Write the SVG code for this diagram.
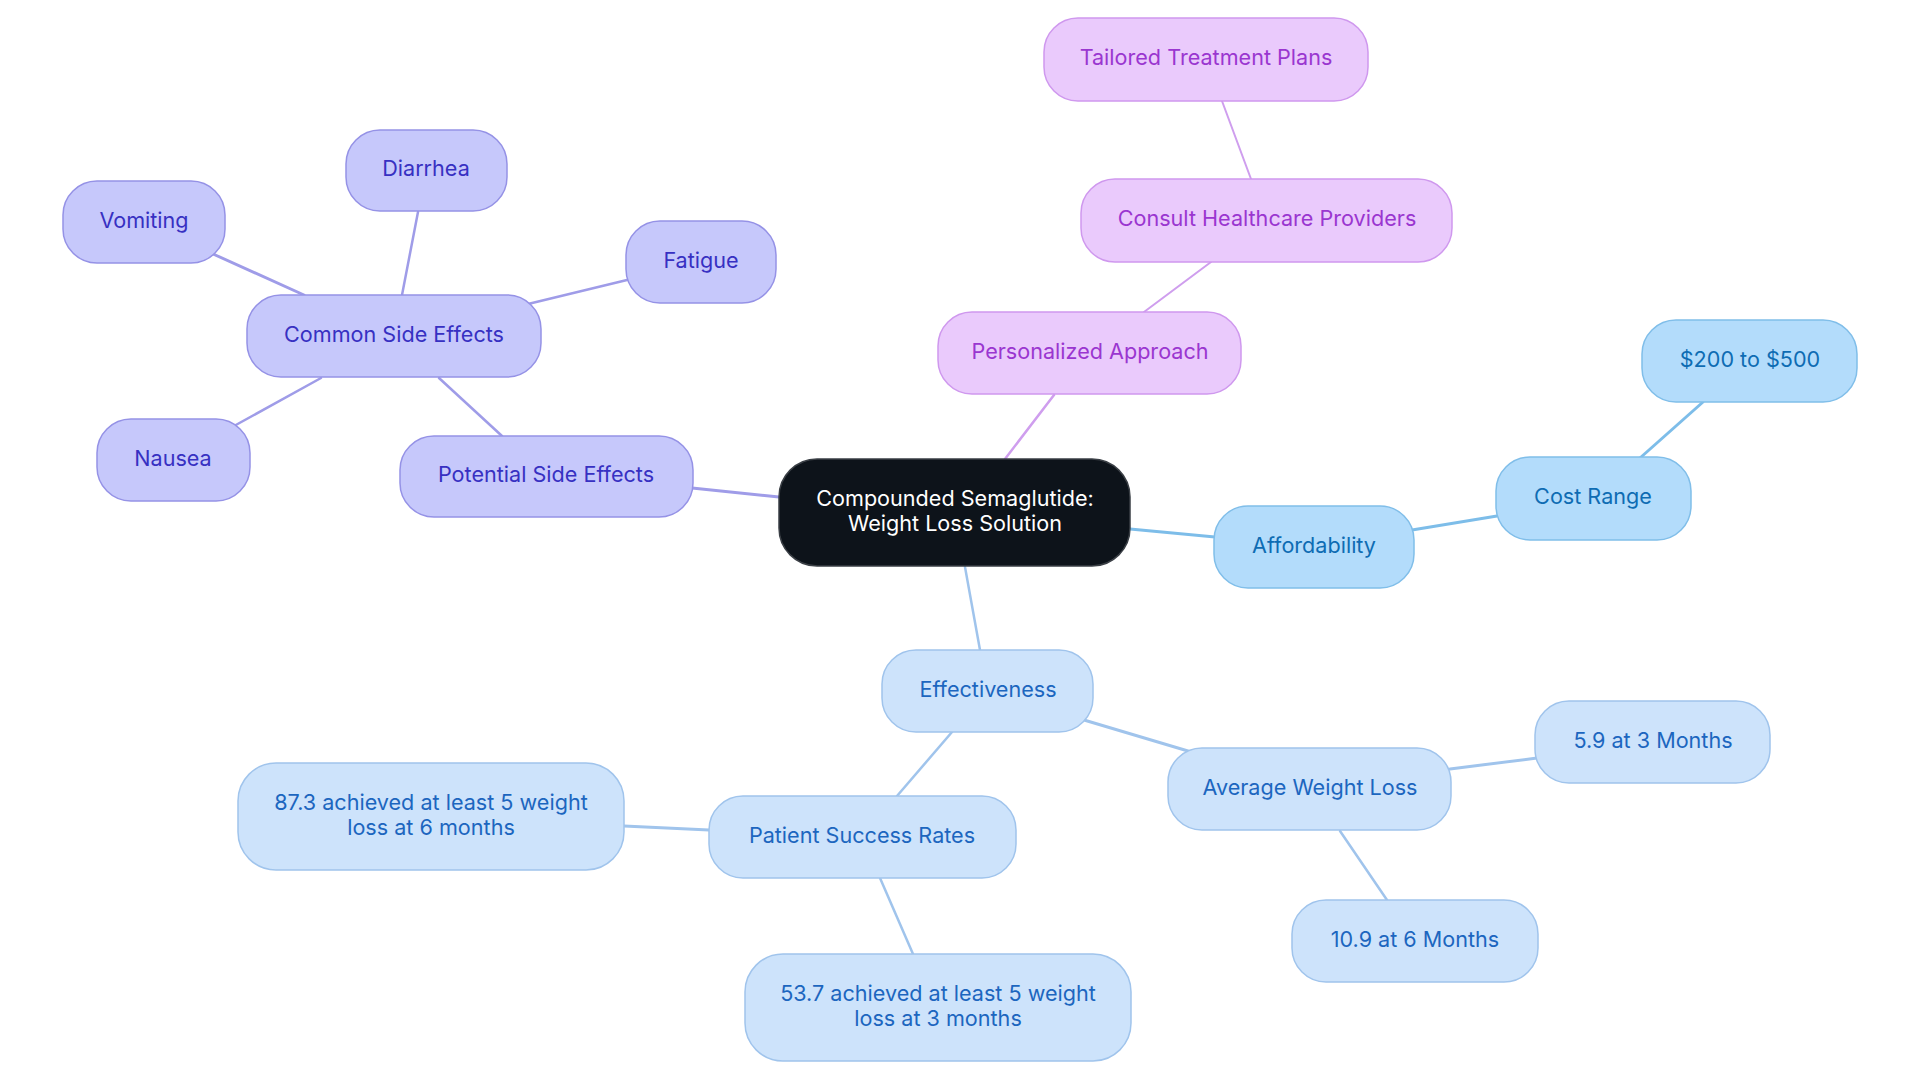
<svg xmlns="http://www.w3.org/2000/svg" width="1920" height="1083" viewBox="0 0 1920 1083">
<style>
text{font-family:Inter,"Noto Sans","Liberation Sans",sans-serif;font-size:21.6px;text-anchor:middle}
.s1 rect{fill:#c6c8fb;stroke:#9592e6;stroke-width:1.5}
.s1 text{fill:#3730c2}
.s2 rect{fill:#eacafc;stroke:#cf98ee;stroke-width:1.5}
.s2 text{fill:#9a36d0}
.s3 rect{fill:#b3dcfb;stroke:#80bee9;stroke-width:1.5}
.s3 text{fill:#0e6cb3}
.s4 rect{fill:#cde3fb;stroke:#a0c4ec;stroke-width:1.5}
.s4 text{fill:#1c66bf}
.root rect{fill:#0d131a;stroke:#3a3f45;stroke-width:1.5}
.root text{fill:#ffffff}
.e1{stroke:#9f9ce8}
.e2{stroke:#cf9eee}
.e3{stroke:#7dbde9}
.e4{stroke:#a0c4ec}
#edges line{stroke-linecap:round;fill:none}
</style>
<rect width="1920" height="1083" fill="#ffffff"/>
<g id="edges">
<line class="e1" x1="213" y1="254" x2="304" y2="295" stroke-width="3"/>
<line class="e1" x1="418" y1="212" x2="402" y2="295" stroke-width="2.5"/>
<line class="e1" x1="627" y1="280" x2="528" y2="304" stroke-width="2.5"/>
<line class="e1" x1="234" y1="426" x2="321" y2="378" stroke-width="2.5"/>
<line class="e1" x1="502" y1="436" x2="439" y2="378" stroke-width="2.5"/>
<line class="e1" x1="692" y1="488" x2="779" y2="497" stroke-width="3"/>
<line class="e2" x1="1222" y1="101" x2="1251" y2="179" stroke-width="2"/>
<line class="e2" x1="1211" y1="262" x2="1144" y2="312" stroke-width="2"/>
<line class="e2" x1="1054" y1="395" x2="1005" y2="459" stroke-width="2.5"/>
<line class="e3" x1="1703" y1="402" x2="1640" y2="458" stroke-width="3"/>
<line class="e3" x1="1497" y1="516" x2="1412" y2="530" stroke-width="3"/>
<line class="e3" x1="1130" y1="529" x2="1215" y2="537" stroke-width="3"/>
<line class="e4" x1="965" y1="567" x2="980" y2="650" stroke-width="2.5"/>
<line class="e4" x1="1084" y1="720" x2="1188" y2="751" stroke-width="3"/>
<line class="e4" x1="1450" y1="769" x2="1537" y2="758" stroke-width="3"/>
<line class="e4" x1="1340" y1="831" x2="1387" y2="900" stroke-width="2.5"/>
<line class="e4" x1="952" y1="732" x2="897" y2="796" stroke-width="2.5"/>
<line class="e4" x1="624" y1="826" x2="709" y2="830" stroke-width="3"/>
<line class="e4" x1="880" y1="878" x2="913" y2="954" stroke-width="2.5"/>
</g>
<g id="root" class="root"><rect x="779" y="459" width="351" height="107" rx="38"/><text x="955" y="506">Compounded Semaglutide:</text><text x="955" y="531">Weight Loss Solution</text></g>
<g id="vomiting" class="s1"><rect x="63" y="181" width="162" height="82" rx="34"/><text x="144" y="228">Vomiting</text></g>
<g id="diarrhea" class="s1"><rect x="346" y="130" width="161" height="81" rx="34"/><text x="426" y="176">Diarrhea</text></g>
<g id="fatigue" class="s1"><rect x="626" y="221" width="150" height="82" rx="34"/><text x="701" y="268">Fatigue</text></g>
<g id="common" class="s1"><rect x="247" y="295" width="294" height="82" rx="34"/><text x="394" y="342">Common Side Effects</text></g>
<g id="nausea" class="s1"><rect x="97" y="419" width="153" height="82" rx="34"/><text x="173" y="466">Nausea</text></g>
<g id="potential" class="s1"><rect x="400" y="436" width="293" height="81" rx="34"/><text x="546" y="482">Potential Side Effects</text></g>
<g id="tailored" class="s2"><rect x="1044" y="18" width="324" height="83" rx="34"/><text x="1206" y="65">Tailored Treatment Plans</text></g>
<g id="consult" class="s2"><rect x="1081" y="179" width="371" height="83" rx="34"/><text x="1267" y="226">Consult Healthcare Providers</text></g>
<g id="personalized" class="s2"><rect x="938" y="312" width="303" height="82" rx="34"/><text x="1090" y="359">Personalized Approach</text></g>
<g id="price" class="s3"><rect x="1642" y="320" width="215" height="82" rx="34"/><text x="1750" y="367">$200 to $500</text></g>
<g id="cost" class="s3"><rect x="1496" y="457" width="195" height="83" rx="34"/><text x="1593" y="504">Cost Range</text></g>
<g id="affordability" class="s3"><rect x="1214" y="506" width="200" height="82" rx="34"/><text x="1314" y="553">Affordability</text></g>
<g id="effectiveness" class="s4"><rect x="882" y="650" width="211" height="82" rx="34"/><text x="988" y="697">Effectiveness</text></g>
<g id="average" class="s4"><rect x="1168" y="748" width="283" height="82" rx="34"/><text x="1310" y="795">Average Weight Loss</text></g>
<g id="m3" class="s4"><rect x="1535" y="701" width="235" height="82" rx="34"/><text x="1653" y="748">5.9 at 3 Months</text></g>
<g id="m6" class="s4"><rect x="1292" y="900" width="246" height="82" rx="34"/><text x="1415" y="947">10.9 at 6 Months</text></g>
<g id="patient" class="s4"><rect x="709" y="796" width="307" height="82" rx="34"/><text x="862" y="843">Patient Success Rates</text></g>
<g id="p873" class="s4"><rect x="238" y="763" width="386" height="107" rx="38"/><text x="431" y="810">87.3 achieved at least 5 weight</text><text x="431" y="835">loss at 6 months</text></g>
<g id="p537" class="s4"><rect x="745" y="954" width="386" height="107" rx="38"/><text x="938" y="1001">53.7 achieved at least 5 weight</text><text x="938" y="1026">loss at 3 months</text></g>
</svg>
